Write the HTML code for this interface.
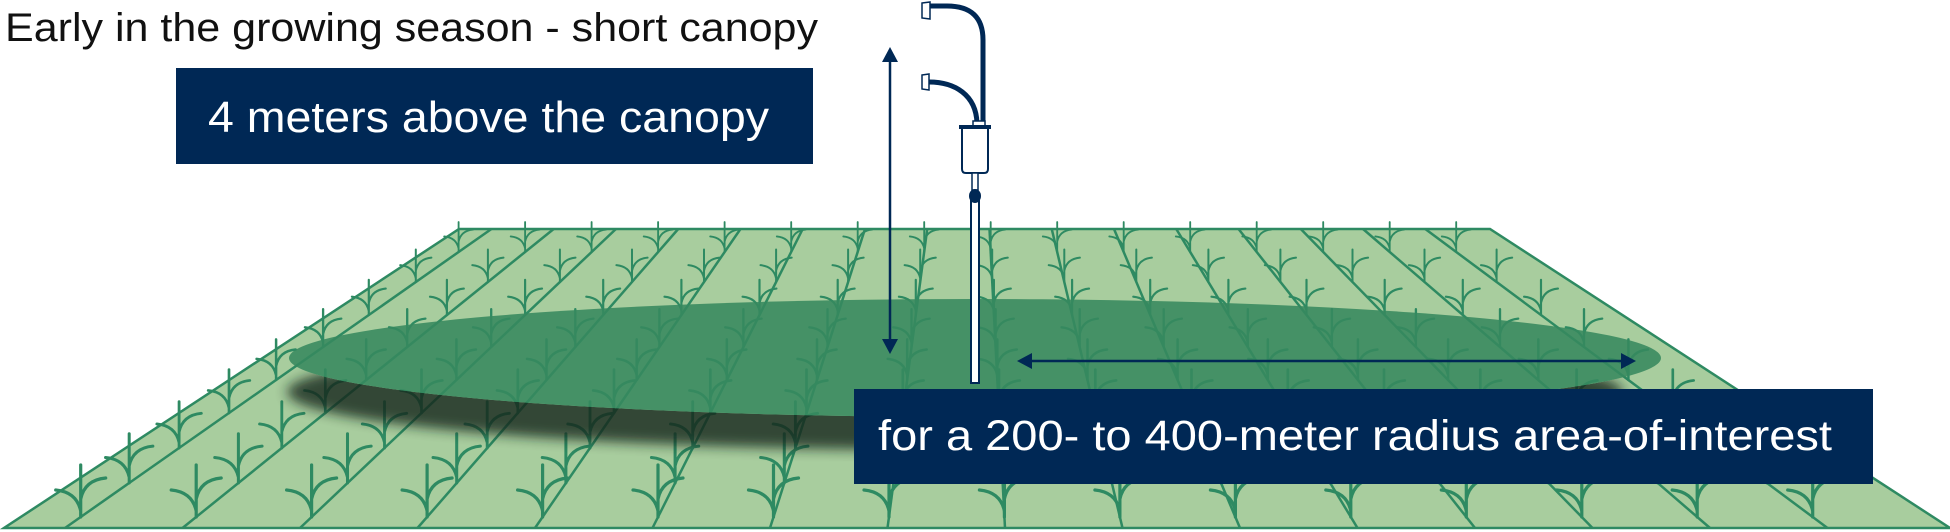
<!DOCTYPE html>
<html><head><meta charset="utf-8"><style>
html,body{margin:0;padding:0;background:#fff;}
svg{display:block;}
</style></head><body>
<svg id="s" width="1950" height="532" viewBox="0 0 1950 532" xmlns="http://www.w3.org/2000/svg">
<defs>
<filter id="bl" x="-10%" y="-50%" width="120%" height="200%"><feGaussianBlur stdDeviation="6"/></filter>
<mask id="m"><rect width="1950" height="532" fill="#fff"/><ellipse cx="975" cy="358" rx="686" ry="59" fill="#000"/></mask>
</defs>
<polygon points="459,229 1490,229 1950,528 4,528" fill="#a8cd9e" stroke="#2e8a62" stroke-width="2.5"/>
<g id="lines" stroke="#2e8a62" stroke-width="2.5" fill="none"></g>
<g id="plants" stroke="#2e8a62" fill="none" stroke-linecap="round"></g>
<g mask="url(#m)"><ellipse cx="955" cy="392" rx="668" ry="58" fill="#14251a" opacity="0.8" filter="url(#bl)"/></g>
<ellipse cx="975" cy="358" rx="686" ry="59" fill="#37895f" opacity="0.88"/>
<!-- vertical arrow -->
<line x1="890" y1="58" x2="890" y2="344" stroke="#002855" stroke-width="2.5"/>
<polygon points="890,47 882,62 898,62" fill="#002855"/>
<polygon points="890,354 882,339 898,339" fill="#002855"/>
<!-- horizontal arrow -->
<line x1="1028" y1="361" x2="1624" y2="361" stroke="#002855" stroke-width="2.5"/>
<polygon points="1017,361 1032,353 1032,369" fill="#002855"/>
<polygon points="1636,361 1621,353 1621,369" fill="#002855"/>
<!-- sensor -->
<path d="M930,6 L947,6 Q983,6 983,40 L983,123" stroke="#002855" stroke-width="5" fill="none"/>
<path d="M929,82 C955,82 976,95 977,123" stroke="#002855" stroke-width="5" fill="none"/>
<path d="M922,3 L930,2 L930,19 L922,18 Z" fill="#fff" stroke="#002855" stroke-width="1.5"/>
<path d="M922,75 L929,74 L929,90 L922,89 Z" fill="#fff" stroke="#002855" stroke-width="1.5"/>
<rect x="973" y="121" width="12" height="6" fill="#fff" stroke="#002855" stroke-width="1.5"/>
<path d="M962,128 L988,128 L988,169 Q988,173 984,173 L966,173 Q962,173 962,169 Z" fill="#fff" stroke="#002855" stroke-width="2"/>
<rect x="959" y="125" width="32" height="4" fill="#002855"/>
<rect x="972" y="173" width="6" height="17" fill="#fff" stroke="#002855" stroke-width="1.5"/>
<rect x="971" y="196" width="8" height="187" fill="#fff" stroke="#002855" stroke-width="2"/>
<ellipse cx="975" cy="196" rx="6" ry="7" fill="#002855"/>
<!-- boxes -->
<rect x="176" y="68" width="637" height="96" fill="#002855"/>
<rect x="854" y="389" width="1019" height="95" fill="#002855"/>
<text x="5" y="41" font-family="Liberation Sans, sans-serif" font-size="40" fill="#111" textLength="813" lengthAdjust="spacingAndGlyphs">Early in the growing season - short canopy</text>
<text x="208" y="132" font-family="Liberation Sans, sans-serif" font-size="44" fill="#fff" textLength="561" lengthAdjust="spacingAndGlyphs">4 meters above the canopy</text>
<text x="878" y="450" font-family="Liberation Sans, sans-serif" font-size="43" fill="#fff" textLength="954" lengthAdjust="spacingAndGlyphs">for a 200- to 400-meter radius area-of-interest</text>
</svg>
<script>
(function(){
var NS="http://www.w3.org/2000/svg";
var L=document.getElementById("lines"),P=document.getElementById("plants");
var vx=972,vy=-108;
var levels=[517,483,448,413,380,347,315,282,252];
for(var k=0;k<16;k++){
 var xb=65+117.5*k;
 var xt=xb+(vx-xb)*(299/636);
 var l=document.createElementNS(NS,"line");
 l.setAttribute("x1",xb);l.setAttribute("y1",528);l.setAttribute("x2",xt);l.setAttribute("y2",229);
 L.appendChild(l);
 for(var i=0;i<levels.length;i++){
  var y=levels[i];
  var x=xb+(vx-xb)*(528-y)/636;
  var s=(y-vy)/(517-vy);
  var p=document.createElementNS(NS,"path");
  var d="M0,0 L0,-52 M0,-6 Q-4,-25 -25,-27 M0,-18 Q4,-37 25,-39";
  p.setAttribute("d",d);
  p.setAttribute("transform","translate("+x.toFixed(1)+","+y+") scale("+s.toFixed(3)+")");
  p.setAttribute("stroke-width",(3.2).toFixed(2));
  P.appendChild(p);
 }
}
})();
</script>
</body></html>
